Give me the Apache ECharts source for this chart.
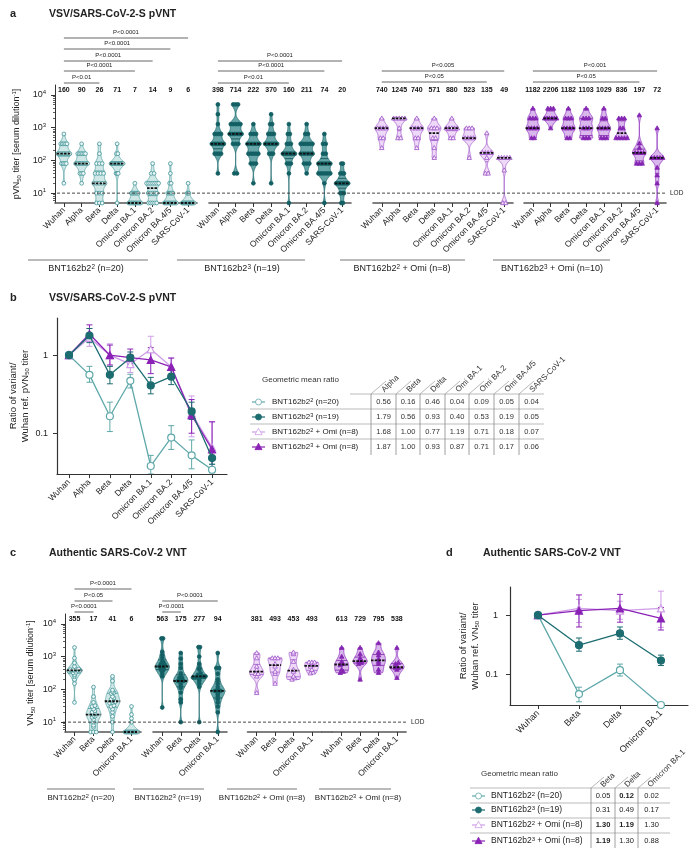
<!DOCTYPE html>
<html>
<head>
<meta charset="utf-8">
<script src="https://cdn.jsdelivr.net/npm/echarts@6/dist/echarts.min.js"></script>
<style>
html,body{margin:0;padding:0;background:#ffffff;}
#chart{width:700px;height:852px;}
</style>
</head>
<body>
<div id="chart"></div>
<script>
// ======================= DATA =======================
const variantsA = ['Wuhan','Alpha','Beta','Delta','Omicron BA.1','Omicron BA.2','Omicron BA.4/5','SARS-CoV-1'];
const variantsC = ['Wuhan','Beta','Delta','Omicron BA.1'];

// Panel a: individual pVN50 titers per variant, as [titer, number of sera]
const pvnt_b2 = [
  [[640,1],[320,5],[160,9],[80,4],[20,1]],
  [[320,1],[160,6],[80,9],[40,3],[20,1]],
  [[320,1],[160,1],[80,3],[40,4],[20,5],[10,3],[5,3]],
  [[320,1],[160,2],[80,13],[40,3],[5,1]],
  [[20,1],[10,7],[5,12]],
  [[80,1],[40,2],[20,7],[10,5],[5,5]],
  [[80,1],[40,1],[20,2],[10,5],[5,11]],
  [[20,1],[10,3],[5,16]]
];
const pvnt_b3 = [
  [[5120,1],[2560,1],[1280,1],[640,4],[320,7],[160,4],[40,1]],
  [[5120,3],[1280,5],[640,6],[320,3],[40,2]],
  [[1280,1],[640,3],[320,6],[160,5],[80,3],[20,1]],
  [[2560,1],[1280,2],[640,4],[320,8],[160,3],[20,1]],
  [[1280,1],[640,2],[320,3],[160,8],[80,3],[40,1],[5,1]],
  [[1280,1],[640,2],[320,6],[160,6],[80,3],[40,1]],
  [[640,1],[320,2],[160,2],[80,6],[40,6],[20,1],[5,1]],
  [[80,2],[40,3],[20,9],[10,3],[5,2]]
];
const pvnt_b2omi = [
  [[1920,1],[960,4],[480,2],[240,1]],
  [[1920,5],[960,1],[480,2]],
  [[1920,1],[960,4],[480,2],[240,1]],
  [[1920,1],[960,3],[480,2],[240,1],[120,1]],
  [[1920,1],[960,5],[480,2]],
  [[960,3],[480,4],[120,1]],
  [[680,1],[170,4],[120,1],[40,2]],
  [[120,5],[50,1],[5,2]]
];
const pvnt_b3omi = [
  [[3840,1],[1920,3],[960,4],[480,2]],
  [[3840,3],[1920,6],[960,1]],
  [[3840,1],[1920,3],[960,4],[480,2]],
  [[3840,1],[1920,3],[960,3],[480,3]],
  [[3840,1],[1920,2],[960,4],[480,3]],
  [[1920,3],[960,2],[480,5]],
  [[2400,1],[330,1],[240,1],[170,4],[80,3]],
  [[960,1],[120,5],[60,1],[35,1],[20,1],[5,1]]
];
const gmt_a_b2 = [160,90,26,71,7,14,9,6];
const gmt_a_b3 = [398,714,222,370,160,211,74,20];
const gmt_a_b2omi = [740,1245,740,571,880,523,135,49];
const gmt_a_b3omi = [1182,2206,1182,1103,1029,836,197,72];

// Panel c: individual VN50 titers per variant
const vnt_b2 = [
  [1900,900,640,500,420,380,400,400,400,380,380,380,360,320,280,250,200,150,40,330],
  [117,60,40,32,30,25,22,20,18,18,16,15,14,12,10,8,7,5,5,5],
  [250,180,95,85,80,75,60,55,50,45,42,40,38,32,30,25,20,15,10,5],
  [30,17,13,10,5,5,5,5,5,5,5,5,5,5,5,5,5,5,5,5]
];
const vnt_b3 = [
  [3600,3600,1400,1100,900,700,650,600,550,500,450,350,300,500,450,400,400,250,28],
  [1290,870,600,450,310,250,225,225,200,180,180,180,150,130,110,80,50,40,10],
  [1950,1950,1000,600,450,400,310,280,250,250,250,230,230,230,200,180,150,120,10],
  [1290,450,450,300,200,150,120,100,90,90,90,80,70,60,50,40,30,20,5]
];
const vnt_b2omi = [
  [1290,900,500,400,300,300,250,78],
  [900,900,900,600,500,350,300,150],
  [1350,1200,700,400,350,250,220,200],
  [670,670,670,550,500,400,330,310]
];
const vnt_b3omi = [
  [1870,1000,700,600,550,400,350,320],
  [1870,1200,900,750,700,650,600,200],
  [2600,1350,1100,850,700,600,400,320],
  [1870,650,600,500,450,450,400,225]
];
const gmt_c_b2 = [355,17,41,6];
const gmt_c_b3 = [563,175,277,94];
const gmt_c_b2omi = [381,493,453,493];
const gmt_c_b3omi = [613,729,795,538];

// Panel b: geometric mean ratio (variant / Wuhan), with error ranges [low, high]
const ratioB_b2    = [1, 0.56, 0.165, 0.47, 0.038, 0.088, 0.052, 0.034];
const ratioB_b3    = [1, 1.79, 0.56, 0.93, 0.41, 0.53, 0.19, 0.048];
const ratioB_b2omi = [1, 1.68, 1.00, 0.77, 1.19, 0.71, 0.18, 0.066];
const ratioB_b3omi = [1, 1.87, 1.00, 0.93, 0.87, 0.71, 0.17, 0.062];
const errB_b2    = [null,[0.45,0.72],[0.105,0.25],[0.38,0.57],[0.03,0.052],[0.062,0.125],[0.035,0.082],[0.031,0.04]];
const errB_b3    = [null,[1.45,2.2],[0.43,0.72],[0.78,1.1],[0.32,0.52],[0.42,0.67],[0.15,0.25],[0.04,0.058]];
const errB_b2omi = [null,[1.3,2.2],[0.72,1.4],[0.6,1.0],[0.8,1.75],[0.55,0.92],[0.09,0.3],[0.033,0.14]];
const errB_b3omi = [null,[1.5,2.45],[0.75,1.35],[0.75,1.2],[0.58,1.25],[0.55,0.92],[0.1,0.27],[0.035,0.14]];
const tableB_cols = ['Alpha','Beta','Delta','Omi BA.1','Omi BA.2','Omi BA.4/5','SARS-CoV-1'];
const tableB_rows = [
  ['0.56','0.16','0.46','0.04','0.09','0.05','0.04'],
  ['1.79','0.56','0.93','0.40','0.53','0.19','0.05'],
  ['1.68','1.00','0.77','1.19','0.71','0.18','0.07'],
  ['1.87','1.00','0.93','0.87','0.71','0.17','0.06']
];

// Panel d
const ratioD_b2    = [1, 0.046, 0.117, 0.03];
const ratioD_b3    = [1, 0.31, 0.49, 0.17];
const ratioD_b2omi = [1, 1.30, 1.19, 1.30];
const ratioD_b3omi = [1, 1.19, 1.30, 0.88];
const errD_b2    = [null,[0.034,0.06],[0.093,0.148],null];
const errD_b3    = [null,[0.245,0.41],[0.39,0.63],[0.14,0.21]];
const errD_b2omi = [null,[0.75,1.85],[0.85,1.72],[0.62,2.55]];
const errD_b3omi = [null,[0.63,2.2],[0.76,2.25],[0.56,1.35]];
const tableD_cols = ['Beta','Delta','Omicron BA.1'];
const tableD_rows = [['0.05','0.12','0.02'],['0.31','0.49','0.17'],['1.30','1.19','1.30'],['1.19','1.30','0.88']];
const tableD_bold = [[0,1,0],[0,0,0],[1,1,0],[1,0,0]];

const legendB = ['BNT162b2{sup|2} (n=20)','BNT162b2{sup|3} (n=19)','BNT162b2{sup|2} + Omi (n=8)','BNT162b2{sup|3} + Omi (n=8)'];
const groupLabelsA = ['BNT162b2{sup|2} (n=20)','BNT162b2{sup|3} (n=19)','BNT162b2{sup|2} + Omi (n=8)','BNT162b2{sup|3} + Omi (n=10)'];
const groupLabelsC = ['BNT162b2{sup|2} (n=20)','BNT162b2{sup|3} (n=19)','BNT162b2{sup|2} + Omi (n=8)','BNT162b2{sup|3} + Omi (n=8)'];
// significance brackets: [group, from category, to category, label]
const pvalA = [[0,0,7,'P<0.0001'],[0,0,6,'P<0.0001'],[0,0,5,'P<0.0001'],[0,0,4,'P<0.0001'],[0,0,2,'P<0.01'],
               [1,0,7,'P<0.0001'],[1,0,6,'P<0.0001'],[1,0,4,'P<0.01'],
               [2,0,7,'P<0.005'],[2,0,6,'P<0.05'],[3,0,7,'P<0.001'],[3,0,6,'P<0.05']];
const pvalC = [[0,0,3,'P<0.0001'],[0,0,2,'P<0.05'],[0,0,1,'P<0.0001'],[1,0,3,'P<0.0001'],[1,0,1,'P<0.0001']];

// ======================= STYLE / LAYOUT =======================
const FONT = '"Liberation Sans", Arial, Helvetica, sans-serif';
const RICH = {sup:{fontSize:6,verticalAlign:'bottom',padding:[0,0,5,0]}, sub:{fontSize:6,verticalAlign:'top',padding:[5,0,0,0]}};
const GSTYLE = [
  {fill:'#cfe7e7',stroke:'#5aa3a5',pt:'#3f9396',ptFill:'#eef7f7',q:'#4b9a9c',shape:'circle',open:true},
  {fill:'#66a6a8',stroke:'#1f6b6e',pt:'#135f63',ptFill:'#135f63',q:'#0f4f53',shape:'circle',open:false},
  {fill:'#eed9f8',stroke:'#a460cc',pt:'#9d52c8',ptFill:'#f6ebfc',q:'#a15bc9',shape:'triangle',open:true},
  {fill:'#d9b6ec',stroke:'#8e32be',pt:'#8526b3',ptFill:'#8526b3',q:'#7d22a8',shape:'triangle',open:false}
];
const LSTYLE = [
  {color:'#5fa8aa',symbol:'circle',open:true},
  {color:'#1c6c70',symbol:'circle',open:false},
  {color:'#cf9de8',symbol:'triangle',open:true},
  {color:'#8b22b6',symbol:'triangle',open:false}
];
const gridsA = [{left:55,width:142},{left:209,width:142},{left:373,width:140},{left:524,width:142}];
const gridsC = [{left:65,width:76},{left:153,width:74},{left:247.5,width:73.5},{left:332.5,width:73.6}];
const A_TOP=85, C_TOP=614, AC_H=118, T_MIN=5, T_MAX=20000;

function expand(p){const o=[];p.forEach(([v,n])=>{for(let k=0;k<n;k++)o.push(v);});return o;}

function marker(shape,x,y,open,color,fillOpen,r){
  const st={fill:open?fillOpen:color,stroke:color,lineWidth:0.8};
  if(shape==='circle') return {type:'circle',shape:{cx:x,cy:y,r:r},style:st};
  const s=r*1.25;
  return {type:'polygon',shape:{points:[[x,y-s],[x-s*0.95,y+s*0.7],[x+s*0.95,y+s*0.7]]},style:st};
}

function violinSeries(gi, groups, gmts, st){
  return {
    type:'custom', xAxisIndex:gi, yAxisIndex:gi, clip:false, z:3, silent:true,
    data: gmts.map((g,i)=>[i,g]),
    renderItem:function(params, api){
      const i=api.value(0);
      const vals=groups[i].slice().sort((a,b)=>a-b);
      const L=vals.map(v=>Math.log10(v));
      const band=api.size([1,1],[0,10])[0];
      const cx=api.coord([i,10])[0];
      const maxHalf=band*0.38;
      const lo=L[0], hi=L[L.length-1], h=0.12;
      const dens=t=>{let s=0;for(const x of L)s+=Math.exp(-0.5*((t-x)/h)*((t-x)/h));return s;};
      const n=Math.max(2,Math.ceil((hi-lo)/0.008));
      const ts=[],ds=[];let dmax=0;
      for(let k=0;k<=n;k++){const t=lo+(hi-lo)*k/n;const d=dens(t);ts.push(t);ds.push(d);if(d>dmax)dmax=d;}
      const W=t=>dens(t)/dmax*maxHalf;
      const Y=t=>api.coord([i,Math.pow(10,t)])[1];
      const left=[],right=[];
      for(let k=0;k<=n;k++){const y=Y(ts[k]);const w=ds[k]/dmax*maxHalf;left.push([cx-w,y]);right.unshift([cx+w,y]);}
      const ch=[{type:'polygon',shape:{points:left.concat(right)},style:{fill:st.fill,stroke:st.stroke,lineWidth:0.8}}];
      const q=p=>{const pos=(L.length-1)*p;const a=Math.floor(pos),b=Math.ceil(pos);return L[a]+(L[b]-L[a])*(pos-a);};
      [0.25,0.75].forEach(p=>{const t=q(p);const w=W(t);const y=Y(t);
        ch.push({type:'line',shape:{x1:cx-w,y1:y,x2:cx+w,y2:y},style:{stroke:st.q,lineWidth:0.8}});});
      // points, spread horizontally where they coincide
      let k=0;
      while(k<L.length){
        let j=k; while(j+1<L.length && L[j+1]-L[k]<0.045) j++;
        const m=j-k+1; const tMid=(L[k]+L[j])/2; const w=Math.max(W(tMid),1.5);
        const sp=m>1?Math.min(2.8,Math.max(0.6,(2*w-1.5)/(m-1))):0;
        for(let a=0;a<m;a++){
          ch.push(marker(st.shape,cx+(a-(m-1)/2)*sp,Y(L[k+a]),st.open,st.pt,st.ptFill,1.9));
        }
        k=j+1;
      }
      const tm=q(0.5), wm=W(tm), ym=Y(tm);
      ch.push({type:'line',shape:{x1:cx-wm-0.5,y1:ym,x2:cx+wm+0.5,y2:ym},style:{stroke:'#111',lineWidth:1.8,lineDash:[2.5,1.2]}});
      const yt=api.coord([i,T_MAX])[1];
      ch.push({type:'text',style:{text:String(gmts[i]),x:cx,y:yt+5.5,align:'center',verticalAlign:'middle',fontSize:7,fontWeight:'bold',fill:'#111',fontFamily:FONT}});
      return {type:'group',children:ch};
    }
  };
}

function catAxis(gi,data,fs){
  return {type:'category',gridIndex:gi,data:data,boundaryGap:true,
    axisLine:{show:true,onZero:false,lineStyle:{color:'#555',width:1.6}},
    axisTick:{show:true,alignWithLabel:true,length:4,lineStyle:{color:'#333',width:1}},
    axisLabel:{interval:0,rotate:45,fontSize:fs,color:'#222',fontFamily:FONT,margin:6},
    splitLine:{show:false}};
}
function titerAxis(gi,show,name,gap){
  const tv=[10,100,1000,10000];
  return {type:'log',logBase:10,gridIndex:gi,position:'left',min:T_MIN,max:T_MAX,show:show,
    axisLine:{show:true,onZero:false,lineStyle:{color:'#333',width:1}},
    axisTick:{show:true,length:4,customValues:tv,lineStyle:{color:'#333'}},
    axisLabel:{customValues:tv,formatter:v=>'10{sup|'+Math.round(Math.log10(v))+'}',fontSize:9,color:'#222',fontFamily:FONT,margin:9,rich:RICH},
    splitLine:{show:false},
    name:name,nameLocation:'middle',nameRotate:90,nameGap:gap,
    nameTextStyle:{fontSize:9,color:'#222',fontFamily:FONT,rich:RICH}};
}
function minorAxis(gi){
  const mv=[];
  for(let d=0;d<=4;d++)for(let m=2;m<=9;m++){const v=m*Math.pow(10,d);if(v>T_MIN&&v<T_MAX)mv.push(v);}
  return {type:'log',logBase:10,gridIndex:gi,position:'left',offset:0,min:T_MIN,max:T_MAX,
    axisLine:{show:false,onZero:false},axisLabel:{show:false},splitLine:{show:false},
    axisTick:{show:true,length:2,customValues:mv,lineStyle:{color:'#333',width:0.8}}};
}
function ratioXAxis(gi,cats,min,max,fs){
  const cv=cats.map((c,i)=>i);
  return {type:'value',gridIndex:gi,min:min,max:max,
    axisLine:{show:true,onZero:false,lineStyle:{color:'#333',width:1.2}},
    axisTick:{show:true,length:4,customValues:cv,lineStyle:{color:'#333'}},
    axisLabel:{customValues:cv,formatter:v=>cats[Math.round(v)],rotate:45,fontSize:fs,color:'#222',fontFamily:FONT,margin:7},
    splitLine:{show:false}};
}
function ratioYAxis(gi,name,gap,margin){
  const tv=[0.1,1];
  return {type:'log',logBase:10,gridIndex:gi,position:'left',min:0.03,max:3,
    axisLine:{show:true,onZero:false,lineStyle:{color:'#333',width:1.2}},
    axisTick:{show:true,length:4,customValues:tv,lineStyle:{color:'#333'}},
    axisLabel:{customValues:tv,formatter:v=>(v<0.5?'0.1':'1'),fontSize:9,color:'#222',fontFamily:FONT,margin:margin},
    splitLine:{show:false},
    name:name,nameLocation:'middle',nameRotate:90,nameGap:gap,
    nameTextStyle:{fontSize:9.5,lineHeight:12,color:'#222',fontFamily:FONT,align:'center',rich:RICH}};
}
function lineSeries(ai,vals,ls,z){
  return {type:'line',xAxisIndex:ai,yAxisIndex:ai,silent:true,z:z,
    data:vals.map((v,i)=>[i,v]),symbol:ls.symbol,symbolSize:7,
    lineStyle:{color:ls.color,width:1.3},
    itemStyle:{color:ls.open?'#ffffff':ls.color,borderColor:ls.color,borderWidth:1.2}};
}
function errSeries(ai,errs,ls,z){
  const data=[];errs.forEach((e,i)=>{if(e)data.push([i,e[0],e[1]]);});
  return {type:'custom',xAxisIndex:ai,yAxisIndex:ai,silent:true,z:z,clip:true,data:data,
    renderItem:function(params,api){
      const x=api.value(0);const p1=api.coord([x,api.value(1)]);const p2=api.coord([x,api.value(2)]);
      const c=3,s={stroke:ls.color,lineWidth:1};
      return {type:'group',children:[
        {type:'line',shape:{x1:p1[0],y1:p1[1],x2:p2[0],y2:p2[1]},style:s},
        {type:'line',shape:{x1:p1[0]-c,y1:p1[1],x2:p1[0]+c,y2:p1[1]},style:s},
        {type:'line',shape:{x1:p2[0]-c,y1:p2[1],x2:p2[0]+c,y2:p2[1]},style:s}]};
    }};
}

// ======================= BUILD OPTION =======================
const grids=[],xAxes=[],yAxes=[],series=[];
const groupsA=[pvnt_b2,pvnt_b3,pvnt_b2omi,pvnt_b3omi].map(g=>g.map(expand));
const gmtsA=[gmt_a_b2,gmt_a_b3,gmt_a_b2omi,gmt_a_b3omi];
gridsA.forEach((g,k)=>{
  grids.push({left:g.left,width:g.width,top:A_TOP,height:AC_H});
  xAxes.push(catAxis(k,variantsA,8.5));
  yAxes.push(titerAxis(k,k===0,'pVN{sub|50} titer [serum dilution{sup|-1}]',33));
  series.push(violinSeries(k,groupsA[k],gmtsA[k],GSTYLE[k]));
});
// panel b (index 4)
grids.push({left:57,top:318,width:170,height:156});
xAxes.push(ratioXAxis(4,variantsA,-0.587,7.73,8.5));
yAxes.push(ratioYAxis(4,'Ratio of variant/\nWuhan ref. pVN{sub|50} titer',26,9));
// panel c (5-8)
const groupsC=[vnt_b2,vnt_b3,vnt_b2omi,vnt_b3omi];
const gmtsC=[gmt_c_b2,gmt_c_b3,gmt_c_b2omi,gmt_c_b3omi];
gridsC.forEach((g,k)=>{
  const gi=5+k;
  grids.push({left:g.left,width:g.width,top:C_TOP,height:AC_H});
  xAxes.push(catAxis(gi,variantsC,8.5));
  yAxes.push(titerAxis(gi,k===0,'VN{sub|50} titer [serum dilution{sup|-1}]',29));
  series.push(violinSeries(gi,groupsC[k],gmtsC[k],GSTYLE[k]));
});
// panel d (9)
grids.push({left:510,top:587,width:178,height:118});
xAxes.push(ratioXAxis(9,variantsC,-0.683,3.66,9));
yAxes.push(ratioYAxis(9,'Ratio of variant/\nWuhan ref. VN{sub|50} titer',26,12));
// minor ticks (10, 11)
yAxes.push(minorAxis(0));
yAxes.push(minorAxis(5));

const ratiosB=[ratioB_b2,ratioB_b3,ratioB_b2omi,ratioB_b3omi];
const errsB=[errB_b2,errB_b3,errB_b2omi,errB_b3omi];
const ratiosD=[ratioD_b2,ratioD_b3,ratioD_b2omi,ratioD_b3omi];
const errsD=[errD_b2,errD_b3,errD_b2omi,errD_b3omi];
const order=[2,3,0,1];
order.forEach((s,o)=>{
  series.push(errSeries(4,errsB[s],LSTYLE[s],4+o));
  series.push(lineSeries(4,ratiosB[s],LSTYLE[s],10+o));
  series.push(errSeries(9,errsD[s],LSTYLE[s],4+o));
  series.push(lineSeries(9,ratiosD[s],LSTYLE[s],10+o));
});

const chart=echarts.init(document.getElementById('chart'),null,{renderer:'canvas'});
chart.setOption({animation:false,backgroundColor:'#ffffff',textStyle:{fontFamily:FONT},
  grid:grids,xAxis:xAxes,yAxis:yAxes,series:series});

// ======================= ANNOTATIONS =======================
const G=[];
function T(x,y,text,o){o=o||{};G.push({type:'text',x:x,y:y,rotation:o.rot||0,silent:true,z:100,
  style:{text:text,fill:o.color||'#222',fontSize:o.size||8,fontFamily:FONT,fontWeight:o.bold?'bold':'normal',
    align:o.align||'left',verticalAlign:o.va||'middle',rich:{sup:{fontSize:(o.size||8)*0.7,verticalAlign:'bottom',padding:[0,0,4,0]}}}});}
function Ln(x1,y1,x2,y2,o){o=o||{};G.push({type:'line',silent:true,z:100,shape:{x1:x1,y1:y1,x2:x2,y2:y2},
  style:{stroke:o.color||'#555',lineWidth:o.w||1,lineDash:o.dash||null}});}
function M(shape,x,y,ls){const m=marker(shape,x,y,ls.open,ls.color,'#ffffff',3);m.silent=true;m.z=101;G.push(m);}

// panel titles
T(10,14,'a',{bold:true,size:11});T(49,14,'VSV/SARS-CoV-2-S pVNT',{bold:true,size:10.5});
T(10,298,'b',{bold:true,size:11});T(49,298,'VSV/SARS-CoV-2-S pVNT',{bold:true,size:10.5});
T(10,553,'c',{bold:true,size:11});T(49,553,'Authentic SARS-CoV-2 VNT',{bold:true,size:10.5});
T(446,553,'d',{bold:true,size:11});T(483,553,'Authentic SARS-CoV-2 VNT',{bold:true,size:10.5});

const px=(g,c)=>chart.convertToPixel({xAxisIndex:g,yAxisIndex:g},[c,10]);
// significance brackets panel a
const yBrA=[[38,49,61,71,83],[61,71,83],[71,82],[71,82]];
const cntA=[0,0,0,0];
pvalA.forEach(([g,f,t,lab])=>{const y=yBrA[g][cntA[g]++];const x1=px(g,f)[0],x2=px(g,t)[0];
  Ln(x1,y,x2,y,{color:'#666'});T((x1+x2)/2,y-5.5,lab,{size:6,align:'center'});});
const yBrC=[[589,601,612],[601,612]];
const cntC=[0,0];
pvalC.forEach(([g,f,t,lab])=>{const y=yBrC[g][cntC[g]++];const x1=px(5+g,f)[0],x2=px(5+g,t)[0];
  Ln(x1,y,x2,y,{color:'#666'});T((x1+x2)/2,y-5.5,lab,{size:6,align:'center'});});

// LOD lines
const yLA=chart.convertToPixel({yAxisIndex:0},10);
Ln(57,yLA,666,yLA,{color:'#333',w:0.9,dash:[3,2]});T(670,yLA,'LOD',{size:6.5});
const yLC=chart.convertToPixel({yAxisIndex:5},10);
Ln(63,yLC,407,yLC,{color:'#333',w:0.9,dash:[3,2]});T(411,yLC,'LOD',{size:6.5});
// connect x-axis of last two groups in panel c
const yBotC=chart.convertToPixel({yAxisIndex:5},T_MIN);
Ln(gridsC[2].left+gridsC[2].width,yBotC,gridsC[3].left,yBotC,{color:'#555',w:1.6});

// group labels
const glA=[[28,148,86],[177,305,242],[340,465,402],[493,610,552]];
glA.forEach((p,k)=>{Ln(p[0],260,p[1],260,{color:'#777'});T(p[2],269,groupLabelsA[k],{size:9,align:'center'});});
const glC=[[47,115,81],[133,204,168],[227,297,262],[319,391,358]];
glC.forEach((p,k)=>{Ln(p[0],789,p[1],789,{color:'#777'});T(p[2],798,groupLabelsC[k],{size:8,align:'center'});});

// table panel b
(function(){
  const edges=[371,396,420,445,469,494,519,544], rowsY=[402,417,432,447], sepY=[394,409,424,439];
  T(262,380,'Geometric mean ratio',{size:8,color:'#333'});
  sepY.forEach((y,k)=>Ln(k===0?350:250,y,544,y,{color:'#aaa',w:0.8}));
  for(let c=0;c<7;c++){
    Ln(edges[c],394,edges[c],455,{color:'#888',w:0.8});
    Ln(edges[c],394,edges[c]+15,381,{color:'#999',w:0.7});
    T(edges[c]+12,391,tableB_cols[c],{size:8,rot:Math.PI/4,color:'#333'});
  }
  tableB_rows.forEach((row,r)=>{
    const ls=LSTYLE[r];
    Ln(252,rowsY[r],265,rowsY[r],{color:ls.color,w:1.2});M(ls.symbol,258.5,rowsY[r],ls);
    T(272,rowsY[r],legendB[r],{size:8});
    row.forEach((v,c)=>T((edges[c]+edges[c+1])/2,rowsY[r],v,{size:7.5,align:'center',color:'#333'}));
  });
})();
// table panel d
(function(){
  const edges=[591,615,638,665], rowsY=[796,810,825,841], sepY=[788,803,818,833];
  T(481,774,'Geometric mean ratio',{size:8,color:'#333'});
  sepY.forEach(y=>Ln(470,y,670,y,{color:'#aaa',w:0.8}));
  for(let c=0;c<3;c++){
    Ln(edges[c],788,edges[c],848,{color:'#888',w:0.8});
    Ln(edges[c],788,edges[c]+13,777,{color:'#999',w:0.7});
    T(edges[c]+11,786,tableD_cols[c],{size:8,rot:Math.PI/4,color:'#333'});
  }
  tableD_rows.forEach((row,r)=>{
    const ls=LSTYLE[r];
    Ln(472,rowsY[r],485,rowsY[r],{color:ls.color,w:1.2});M(ls.symbol,478.5,rowsY[r],ls);
    T(491,rowsY[r],legendB[r],{size:8.5});
    row.forEach((v,c)=>T((edges[c]+edges[c+1])/2,rowsY[r],v,{size:7.5,align:'center',color:'#222',bold:!!tableD_bold[r][c]}));
  });
})();

chart.setOption({graphic:{elements:G}});
</script>
</body>
</html>
